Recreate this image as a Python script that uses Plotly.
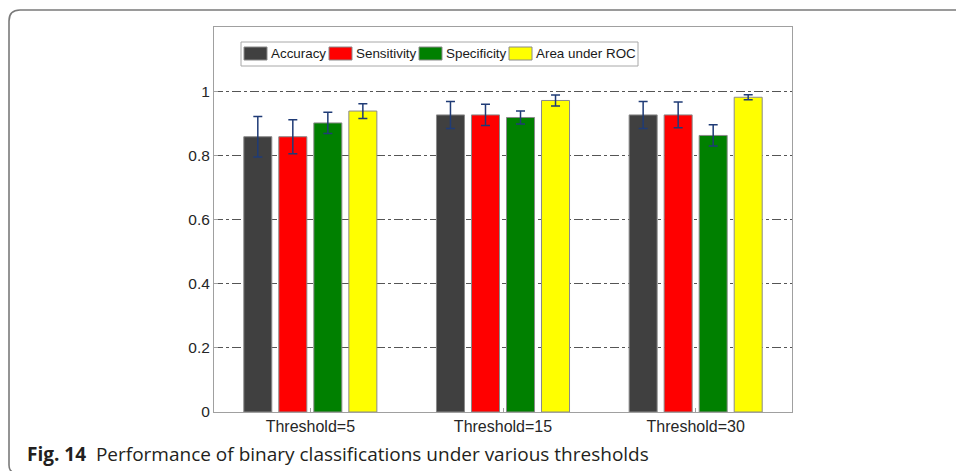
import plotly.graph_objects as go

# Grouped bar chart: classification metrics (mean ± std) per threshold
thresholds = ["Threshold=5", "Threshold=15", "Threshold=30"]
metrics = ["Accuracy", "Sensitivity", "Specificity", "Area under ROC"]

accuracy = [0.858, 0.926, 0.926]
accuracy_err = [0.063, 0.042, 0.042]
sensitivity = [0.858, 0.926, 0.926]
sensitivity_err = [0.053, 0.033, 0.040]
specificity = [0.901, 0.918, 0.862]
specificity_err = [0.033, 0.020, 0.033]
auc = [0.938, 0.971, 0.981]
auc_err = [0.023, 0.017, 0.008]

values = [accuracy, sensitivity, specificity, auc]
errors = [accuracy_err, sensitivity_err, specificity_err, auc_err]
colors = ["#404040", "#ff0000", "#008000", "#ffff00"]

y_ticks = [0, 0.2, 0.4, 0.6, 0.8, 1]
caption_label = "Fig. 14"
caption_text = "Performance of binary classifications under various thresholds"

W, H = 956, 471
ML, MR, MT, MB = 214, 164, 27, 59
PW, PH = W - ML - MR, H - MT - MB


def px_x(px):
    return (px - ML) / PW


def px_y(py):
    return (H - MB - py) / PH


fig = go.Figure()
for name, vals, errs, col in zip(metrics, values, errors, colors):
    fig.add_trace(go.Bar(
        x=thresholds, y=vals, name=name,
        marker=dict(color=col, line=dict(color="#8a8a8a", width=1)),
        error_y=dict(type="data", array=errs, visible=True,
                     color="#1f3b76", thickness=1.5, width=4.5),
        showlegend=False,
    ))

shapes = []
annotations = []

# Outer rounded frame around the figure (right and bottom run off the page)
fx, ftop, fbot, fright = 9, 10, 473, 1000
rt, rb = 11, 8
frame_path = (
    f"M {px_x(fx + rb)},{px_y(fbot)} "
    f"Q {px_x(fx)},{px_y(fbot)} {px_x(fx)},{px_y(fbot - rb)} "
    f"L {px_x(fx)},{px_y(ftop + rt)} "
    f"Q {px_x(fx)},{px_y(ftop)} {px_x(fx + rt)},{px_y(ftop)} "
    f"L {px_x(fright)},{px_y(ftop)}"
)
shapes.append(dict(type="path", path=frame_path, xref="paper", yref="paper",
                   line=dict(color="#7a7a7a", width=1.6), layer="above"))

# Legend box with wide swatches
shapes.append(dict(type="rect", xref="paper", yref="paper",
                   x0=px_x(241), x1=px_x(638), y0=px_y(42), y1=px_y(66),
                   line=dict(color="#a8a8a8", width=1), fillcolor="white"))
swatch_x = [244, 329, 419, 509]
for sx, name, col in zip(swatch_x, metrics, colors):
    shapes.append(dict(type="rect", xref="paper", yref="paper",
                       x0=px_x(sx), x1=px_x(sx + 23), y0=px_y(47), y1=px_y(60),
                       fillcolor=col, line=dict(color="#8a8a8a", width=1)))
    annotations.append(dict(xref="paper", yref="paper", x=px_x(sx + 25),
                            y=px_y(53.5), text=name, showarrow=False,
                            xanchor="left", yanchor="middle",
                            font=dict(family="Liberation Sans, Arial",
                                      size=13.4, color="#1a1a1a")))

annotations.append(dict(
    xref="paper", yref="paper", x=px_x(25), y=px_y(454),
    text=f"<b>{caption_label}</b>&nbsp;&nbsp;{caption_text}",
    showarrow=False, xanchor="left", yanchor="middle",
    font=dict(family="Open Sans", size=19, color="#231f20")))

fig.update_layout(
    width=W, height=H,
    margin=dict(l=ML, r=MR, t=MT, b=MB, pad=0),
    paper_bgcolor="white", plot_bgcolor="white",
    barmode="group", bargap=0.273, bargroupgap=0.2,
    shapes=shapes, annotations=annotations,
    showlegend=False,
)
fig.update_xaxes(
    range=[-0.5, 2.5], showline=True, linecolor="#a0a0a0", linewidth=1,
    mirror=True, ticks="inside", ticklen=4, tickcolor="#a0a0a0",
    showgrid=False, zeroline=False,
    tickfont=dict(family="Liberation Sans, Arial", size=16, color="#262626"),
)
fig.update_yaxes(
    range=[0, 1.2], tickvals=y_ticks, ticktext=[f"{v:g}" for v in y_ticks],
    showline=True, linecolor="#a0a0a0", linewidth=1, mirror=True,
    ticks="inside", ticklen=4, tickcolor="#a0a0a0",
    showgrid=True, gridcolor="#555555", gridwidth=1,
    griddash="9px,3px,3px,3px", zeroline=False,
    tickfont=dict(family="Liberation Sans, Arial", size=15.5, color="#262626"),
)

fig.write_html("out.html")
